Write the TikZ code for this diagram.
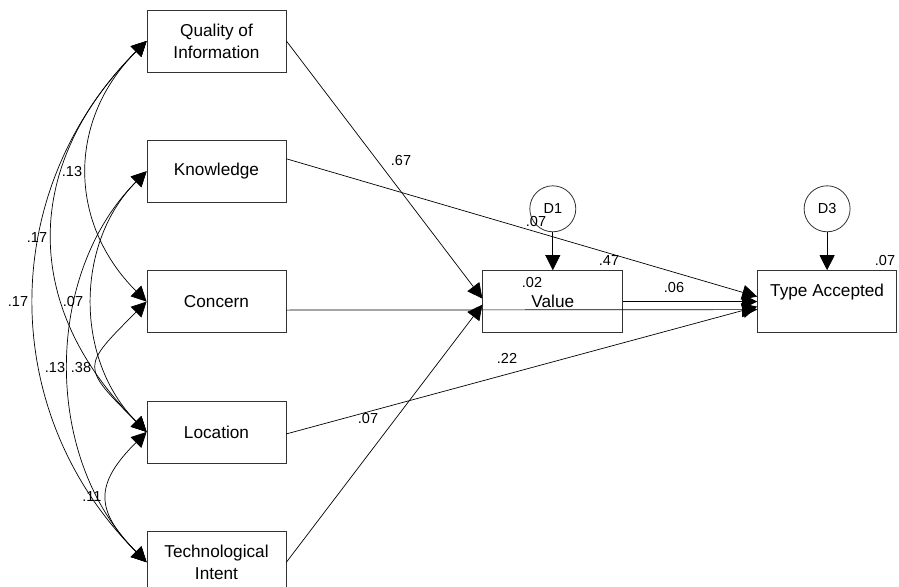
\documentclass[tikz,border=0pt]{standalone}
\usepackage{fontspec}
\setmainfont{Liberation Sans}
\usetikzlibrary{positioning,arrows.meta}
\tikzset{
  VarStyle/.style={draw=black!80,line width=0.8pt,rectangle,minimum width=139pt,
    minimum height=62pt,align=center,font=\fontsize{17.2}{22}\selectfont},
  ErrStyle/.style={draw=black!80,line width=0.8pt,circle,minimum size=46pt,
    inner sep=0pt,font=\fontsize{14.5}{17}\selectfont},
  NumStyle/.style={inner sep=0pt,font=\fontsize{14.5}{17}\selectfont},
  PathStyle/.style={line width=0.7pt,-{Triangle[length=15pt,width=15pt]}},
  CovStyle/.style={line width=0.7pt,
    {Triangle[length=15pt,width=15pt]}-{Triangle[length=15pt,width=15pt]},
    out=225,in=135}
}

\begin{document}
\begin{tikzpicture}[x=1pt,y=1pt,node distance=67.5pt]
    \useasboundingbox (0,0) rectangle (899,-586);

    \node[VarStyle] (Qual) at (216.5,-41) {Quality of\\Information};
    \node[VarStyle,below=of Qual] (Know) {Knowledge};
    \node[VarStyle,below=of Know] (Conc) {Concern};
    \node[VarStyle,below=of Conc] (Loc) {Location};
    \node[VarStyle,below=of Loc] (Tech) {Technological\\Intent};
    \node[VarStyle,right=196pt of Conc,minimum width=140pt] (Val) {Value};
    \node[VarStyle,right=134pt of Val,text height=12pt,text depth=23pt] (Type) {Type Accepted};
    \node[ErrStyle,above=38pt of Val] (D1) {D1};
    \node[ErrStyle,above=38pt of Type] (D3) {D3};

    % regression paths
    \draw[PathStyle] (Qual.east) -- ([yshift=3pt]Val.west);
    \draw[PathStyle] (Tech.east) -- ([yshift=-3pt]Val.west);
    \draw[PathStyle] ([yshift=12.5pt]Know.east) -- ([yshift=5pt]Type.west);
    \draw[PathStyle] ([yshift=-8.5pt]Conc.east) -- ([yshift=-8pt]Type.west);
    \draw[PathStyle] (Val.east) -- (Type.west);
    \draw[PathStyle] ([yshift=-2pt]Loc.east) -- ([yshift=-5pt]Type.west);
    \draw[PathStyle] (D1) -- (Val);
    \draw[PathStyle] (D3) -- (D3 |- Type.north);

    % covariances
    \draw[CovStyle,looseness=1.1] (Qual.west) to (Conc.west);
    \draw[CovStyle,looseness=1.16] (Qual.west) to (Loc.west);
    \draw[CovStyle,looseness=1.04] (Qual.west) to (Tech.west);
    \draw[CovStyle,looseness=1.0] (Know.west) to (Loc.west);
    \draw[CovStyle,looseness=0.96] (Know.west) to (Tech.west);
    \draw[CovStyle,looseness=1.83] (Conc.west) to (Loc.west);
    \draw[CovStyle,looseness=1.45] (Loc.west) to (Tech.west);

    \node[NumStyle] (cQC) at (72,-172) {.13};
    \node[NumStyle] (cQL) at (37,-238) {.17};
    \node[NumStyle] (cQT) at (18,-302) {.17};
    \node[NumStyle] (cKL) at (73,-302) {.07};
    \node[NumStyle] (cKT) at (55,-368) {.13};
    \node[NumStyle] (cCL) at (81,-368) {.38};
    \node[NumStyle] (cLT) at (92,-497) {.11};

    \node[NumStyle] (pQV) at (401,-161) {.67};
    \node[NumStyle] (pKT) at (536,-222) {.07};
    \node[NumStyle] (pCT) at (609,-261) {.47};
    \node[NumStyle] (rVal) at (532,-283) {.02};
    \node[NumStyle] (pVT) at (674,-288) {.06};
    \node[NumStyle] (rType) at (885,-261) {.07};
    \node[NumStyle] (pLT) at (507,-358) {.22};
    \node[NumStyle] (pTV) at (368,-419) {.07};
\end{tikzpicture}
\end{document}
